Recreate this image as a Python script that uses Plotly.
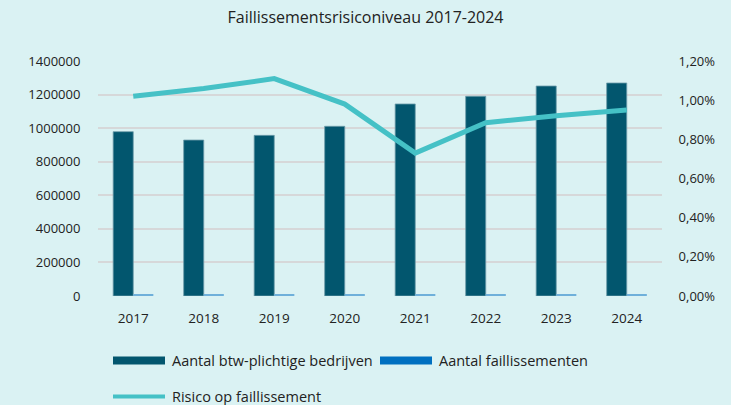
import plotly.graph_objects as go

# Gegevens
jaren = ["2017", "2018", "2019", "2020", "2021", "2022", "2023", "2024"]
btw_bedrijven = [979000, 929000, 957000, 1011000, 1144000, 1190000, 1251000, 1269000]
faillissementen = [9970, 9850, 10600, 9950, 8340, 10530, 11560, 12100]
risico = [0.0102, 0.0106, 0.0111, 0.0098, 0.0073, 0.00885, 0.0092, 0.0095]

y_ticks = [0, 200000, 400000, 600000, 800000, 1000000, 1200000, 1400000]
y2_ticks = [0, 0.002, 0.004, 0.006, 0.008, 0.010, 0.012]

BG = "#DAF2F3"
DONKER = "#02566E"
BLAUW = "#0070C0"
TURKOOIS = "#45C1C6"
GRID = "#D6D8D9"
TEKST = "#222222"
FONT = "Open Sans, Lato, sans-serif"

W, H = 731, 405
L, R, T, B = 98, 662, 61, 296


def px(x):
    return (x - L) / (R - L)


def py(y):
    return (B - y) / (B - T)


fig = go.Figure()
fig.add_trace(go.Bar(
    x=jaren, y=btw_bedrijven, name="Aantal btw-plichtige bedrijven",
    marker=dict(color=DONKER, line=dict(color="#6E9DAB", width=0.8)),
    showlegend=False,
))
fig.add_trace(go.Bar(
    x=jaren, y=faillissementen, name="Aantal faillissementen",
    marker=dict(color="#6FB0DA", line=dict(width=0)),
    showlegend=False,
))
fig.add_trace(go.Scatter(
    x=jaren, y=risico, name="Risico op faillissement", yaxis="y2",
    mode="lines", line=dict(color=TURKOOIS, width=5),
    showlegend=False,
))

fig.update_layout(
    width=W, height=H,
    margin=dict(l=L, r=W - R, t=T, b=H - B),
    paper_bgcolor=BG, plot_bgcolor=BG,
    font=dict(family=FONT, size=13, color=TEKST),
    separators=",.",
    barmode="group", bargap=0.43, bargroupgap=0,
    title=dict(text="Faillissementsrisiconiveau 2017-2024", x=0.5, xanchor="center",
               y=1 - 17 / H, yanchor="middle", font=dict(size=16, color=TEKST)),
    xaxis=dict(showgrid=False, zeroline=False, showline=False, ticks="outside",
               ticklen=10, tickcolor="rgba(0,0,0,0)", tickfont=dict(size=13.5)),
    yaxis=dict(range=[0, 1400000], tickvals=y_ticks, tickformat="d",
               showgrid=True, gridcolor=GRID, gridwidth=1.5, zeroline=False,
               showline=False, ticks="outside", ticklen=14, tickcolor="rgba(0,0,0,0)"),
    yaxis2=dict(range=[0, 0.012], tickvals=y2_ticks, tickformat=".2%",
                overlaying="y", side="right", showgrid=False, zeroline=False,
                showline=False, ticks="outside", ticklen=13, tickcolor="rgba(0,0,0,0)"),
)

# Legenda handmatig, met brede staafjes zoals in het origineel
legenda = [
    ("rect", DONKER, 113, 165, 360.5, 170, "Aantal btw-plichtige bedrijven"),
    ("rect", BLAUW, 380, 432, 360.5, 437, "Aantal faillissementen"),
    ("line", TURKOOIS, 113, 165, 396.5, 170, "Risico op faillissement"),
]
for soort, kleur, x0, x1, yc, xt, tekst in legenda:
    if soort == "rect":
        fig.add_shape(type="rect", xref="paper", yref="paper",
                      x0=px(x0), x1=px(x1), y0=py(yc + 4), y1=py(yc - 4),
                      fillcolor=kleur, line=dict(width=0))
    else:
        fig.add_shape(type="line", xref="paper", yref="paper",
                      x0=px(x0), x1=px(x1), y0=py(yc), y1=py(yc),
                      line=dict(color=kleur, width=4))
    fig.add_annotation(text=tekst, xref="paper", yref="paper", x=px(xt), y=py(yc),
                       xanchor="left", yanchor="middle", showarrow=False,
                       font=dict(size=14.5, color=TEKST))

fig.write_html("out.html", config={"displayModeBar": False},
               post_script="document.body.style.margin='0';")
